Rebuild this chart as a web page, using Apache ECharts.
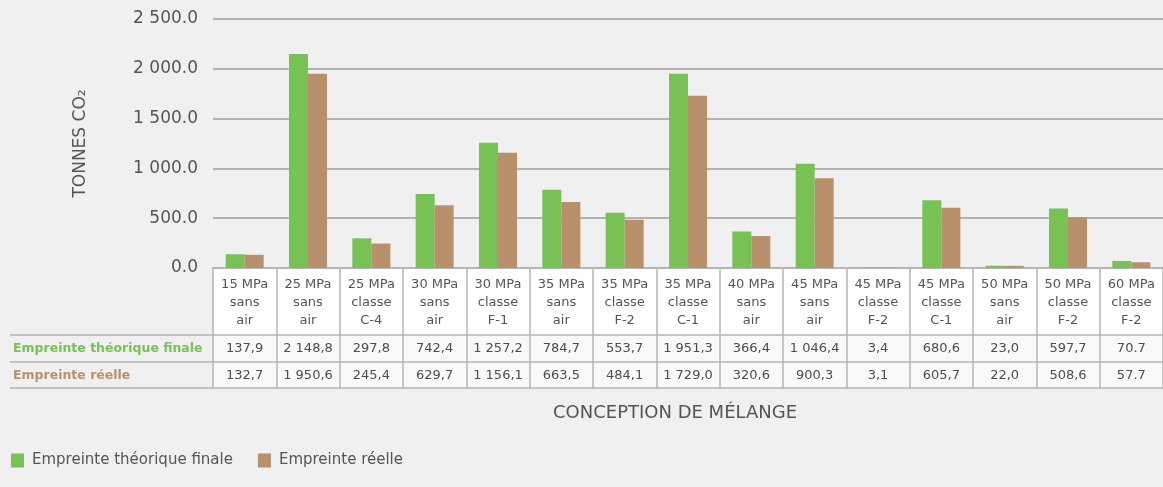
<!DOCTYPE html>
<html>
<head>
<meta charset="utf-8">
<script src="https://cdn.jsdelivr.net/npm/echarts@6/dist/echarts.min.js"></script>
<style>
  html, body { margin: 0; padding: 0; background: #f0f0f0; }
  #chart { width: 1163px; height: 487px; }
</style>
</head>
<body>
<div id="chart"></div>
<script>
// ---- Data ----
const categories = [
  '15 MPa\nsans\nair', '25 MPa\nsans\nair', '25 MPa\nclasse\nC-4', '30 MPa\nsans\nair',
  '30 MPa\nclasse\nF-1', '35 MPa\nsans\nair', '35 MPa\nclasse\nF-2', '35 MPa\nclasse\nC-1',
  '40 MPa\nsans\nair', '45 MPa\nsans\nair', '45 MPa\nclasse\nF-2', '45 MPa\nclasse\nC-1',
  '50 MPa\nsans\nair', '50 MPa\nclasse\nF-2', '60 MPa\nclasse\nF-2'
];
// Table rows exactly as printed
const theoTable = ['137,9', '2 148,8', '297,8', '742,4', '1 257,2', '784,7', '553,7', '1 951,3',
  '366,4', '1 046,4', '3,4', '680,6', '23,0', '597,7', '70.7'];
const realTable = ['132,7', '1 950,6', '245,4', '629,7', '1 156,1', '663,5', '484,1', '1 729,0',
  '320,6', '900,3', '3,1', '605,7', '22,0', '508,6', '57.7'];
const seriesNames = ['Empreinte théorique finale', 'Empreinte réelle'];
const yTicks = { min: 0, max: 2500, interval: 500 };
const xTitle = 'CONCEPTION DE MÉLANGE';
const yTitle = 'TONNES CO₂';

const toNum = s => parseFloat(s.replace(/\s/g, '').replace(',', '.'));
const theoValues = theoTable.map(toNum);
const realValues = realTable.map(toNum);

// ---- Layout / style ----
const FONT = 'DejaVu Sans';
const GREEN = '#77c155';
const BROWN = '#b8906b';
const TXT = '#555555';
const LINE = '#b5b5b5';
const W = 1163, H = 487;
const G_LEFT = 213, G_TOP = 19, G_BOTTOM_Y = 268;
const HEAD_H = 67, ROW_H = 27;
const TABLE_LEFT = 10;

function fmtAxis(v) {
  const s = v.toFixed(1);
  const [i, d] = s.split('.');
  return i.replace(/\B(?=(\d{3})+(?!\d))/g, ' ') + '.' + d;
}

const chart = echarts.init(document.getElementById('chart'), null, { renderer: 'canvas' });

const rowAxis = (labels, offset) => ({
  type: 'category',
  data: labels,
  gridIndex: 0,
  position: 'bottom',
  offset: offset,
  axisLine: { show: false },
  axisTick: { show: false },
  axisLabel: {
    interval: 0, margin: 5, fontFamily: FONT, fontSize: 13, lineHeight: 17, color: '#4d4d4d'
  }
});

const option = {
  backgroundColor: '#f0f0f0',
  animation: false,
  textStyle: { fontFamily: FONT },
  title: {
    text: xTitle,
    left: 548, top: 399,
    textStyle: { fontFamily: FONT, fontSize: 18, fontWeight: 'normal', color: TXT }
  },
  legend: {
    left: 6, top: 448,
    icon: 'rect', itemWidth: 13, itemHeight: 14, itemGap: 25,
    textStyle: { fontFamily: FONT, fontSize: 15, color: TXT, padding: [0, 0, 0, 3] },
    data: seriesNames
  },
  grid: { left: G_LEFT, top: G_TOP, right: 0, bottom: H - G_BOTTOM_Y, containLabel: false },
  xAxis: [
    {
      type: 'category',
      data: categories,
      position: 'bottom',
      axisLine: { show: true, lineStyle: { color: LINE, width: 1.5 } },
      axisTick: { show: true, interval: 0, length: HEAD_H + 2 * ROW_H - 1, lineStyle: { color: LINE, width: 1.5 } },
      axisLabel: { interval: 0, margin: 8, fontFamily: FONT, fontSize: 13, lineHeight: 18, color: TXT }
    },
    rowAxis(theoTable, HEAD_H),
    rowAxis(realTable, HEAD_H + ROW_H)
  ],
  yAxis: {
    type: 'value',
    min: yTicks.min, max: yTicks.max, interval: yTicks.interval,
    name: yTitle,
    nameLocation: 'middle',
    nameGap: 124,
    nameRotate: 90,
    nameTextStyle: { fontFamily: FONT, fontSize: 17, color: TXT },
    axisLine: { show: false },
    axisTick: { show: false },
    axisLabel: { formatter: fmtAxis, margin: 15, fontFamily: FONT, fontSize: 17, color: TXT },
    splitLine: { lineStyle: { color: '#9e9e9e', width: 1.5 } }
  },
  series: [
    { name: seriesNames[0], type: 'bar', data: theoValues, barWidth: 19, barGap: '0%', itemStyle: { color: GREEN } },
    { name: seriesNames[1], type: 'bar', data: realValues, barWidth: 19, barGap: '0%', itemStyle: { color: BROWN } }
  ],
  graphic: [
    // white table body (behind axis lines)
    { type: 'rect', z: -1, silent: true,
      shape: { x: G_LEFT, y: G_BOTTOM_Y, width: W - G_LEFT, height: HEAD_H },
      style: { fill: '#ffffff' } },
    { type: 'rect', z: -1, silent: true,
      shape: { x: G_LEFT, y: G_BOTTOM_Y + HEAD_H, width: W - G_LEFT, height: 2 * ROW_H - 1 },
      style: { fill: '#f9f9f9' } },
    // horizontal rules of the table
    ...[HEAD_H, HEAD_H + ROW_H, HEAD_H + 2 * ROW_H - 1].map(dy => ({
      type: 'line', z: 5, silent: true,
      shape: { x1: TABLE_LEFT, y1: G_BOTTOM_Y + dy, x2: W, y2: G_BOTTOM_Y + dy },
      style: { stroke: LINE, lineWidth: 1.5 }
    })),
    // row headers
    { type: 'text', z: 5, silent: true, left: 13, top: G_BOTTOM_Y + HEAD_H + 7,
      style: { text: seriesNames[0], fill: GREEN, font: 'bold 12.5px "DejaVu Sans"' } },
    { type: 'text', z: 5, silent: true, left: 13, top: G_BOTTOM_Y + HEAD_H + ROW_H + 7,
      style: { text: seriesNames[1], fill: BROWN, font: 'bold 12.5px "DejaVu Sans"' } }
  ]
};

chart.setOption(option);
</script>
</body>
</html>
